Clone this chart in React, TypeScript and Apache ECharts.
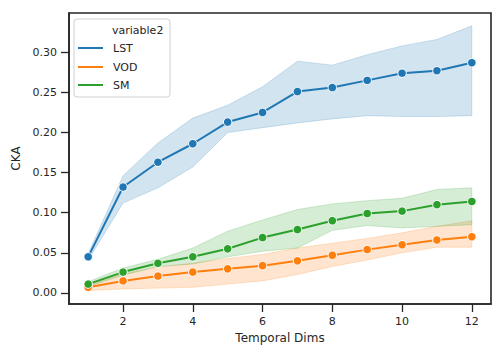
import React, { useEffect, useRef } from "react";
import * as echarts from "echarts";

const dims = [1, 2, 3, 4, 5, 6, 7, 8, 9, 10, 11, 12];
const seriesNames = ["LST", "VOD", "SM"];
const colors = ["#1f77b4", "#ff7f0e", "#2ca02c"];

const lstMean = [0.045, 0.132, 0.163, 0.186, 0.213, 0.225, 0.251, 0.256, 0.265, 0.274, 0.277, 0.287];
const lstUpper = [0.049, 0.146, 0.187, 0.218, 0.234, 0.257, 0.289, 0.284, 0.297, 0.308, 0.316, 0.333];
const lstLower = [0.041, 0.112, 0.131, 0.157, 0.2, 0.206, 0.212, 0.217, 0.221, 0.22, 0.22, 0.221];

const vodMean = [0.007, 0.015, 0.021, 0.026, 0.03, 0.034, 0.04, 0.047, 0.054, 0.06, 0.066, 0.07];
const vodUpper = [0.01, 0.024, 0.032, 0.037, 0.043, 0.048, 0.056, 0.062, 0.068, 0.075, 0.083, 0.09];
const vodLower = [0.003, 0.005, 0.006, 0.007, 0.011, 0.015, 0.023, 0.033, 0.041, 0.05, 0.057, 0.057];

const smMean = [0.011, 0.026, 0.037, 0.045, 0.055, 0.069, 0.079, 0.09, 0.099, 0.102, 0.11, 0.114];
const smUpper = [0.014, 0.031, 0.042, 0.056, 0.077, 0.091, 0.104, 0.111, 0.115, 0.118, 0.129, 0.131];
const smLower = [0.008, 0.022, 0.033, 0.036, 0.045, 0.052, 0.056, 0.078, 0.084, 0.081, 0.083, 0.085];

const xTicks = [2, 4, 6, 8, 10, 12];
const yTicks = [0, 0.05, 0.1, 0.15, 0.2, 0.25, 0.3];

const means = [lstMean, vodMean, smMean];
const uppers = [lstUpper, vodUpper, smUpper];
const lowers = [lstLower, vodLower, smLower];

const FONT = "DejaVu Sans";
const INK = "#262626";

export default function App() {
  const ref = useRef<HTMLDivElement>(null);
  useEffect(() => {
    if (!ref.current) return;
    const chart = echarts.init(ref.current, null, { renderer: "svg" });
    const series: any[] = [];
    seriesNames.forEach((name, k) => {
      const up = uppers[k];
      const lo = lowers[k];
      series.push({
        type: "custom",
        name: name + " band",
        data: dims.map((x, i) => [x, lo[i], up[i]]),
        encode: { x: 0, y: [1, 2] },
        silent: true,
        renderItem: (params: any, api: any) => {
          if (params.dataIndex !== 0) return null;
          const pts: number[][] = [];
          for (let i = 0; i < dims.length; i++) pts.push(api.coord([dims[i], up[i]]));
          for (let i = dims.length - 1; i >= 0; i--) pts.push(api.coord([dims[i], lo[i]]));
          return {
            type: "polygon",
            shape: { points: pts },
            style: {
              fill: colors[k],
              opacity: 0.2,
              stroke: colors[k],
              lineWidth: 1,
            },
          };
        },
      });
      series.push({
        type: "line",
        name,
        data: dims.map((x, i) => [x, means[k][i]]),
        symbol: "circle",
        symbolSize: 8.5,
        showSymbol: true,
        lineStyle: { color: colors[k], width: 2 },
        itemStyle: { color: colors[k], borderColor: "#ffffff", borderWidth: 1 },
        emphasis: { disabled: true },
      });
    });

    const legendItems: any[] = [
      {
        type: "rect",
        shape: { x: 74, y: 19, width: 96, height: 78, r: 3 },
        style: { fill: "rgba(255,255,255,0.8)", stroke: "#d0d0d0", lineWidth: 1 },
      },
      {
        type: "text",
        x: 112,
        y: 30,
        style: { text: "variable2", font: `11px '${FONT}'`, fill: INK, verticalAlign: "middle", align: "left" },
      },
    ];
    const rowY = [48, 67, 85];
    seriesNames.forEach((name, k) => {
      legendItems.push({
        type: "line",
        shape: { x1: 78, y1: rowY[k], x2: 103, y2: rowY[k] },
        style: { stroke: colors[k], lineWidth: 2 },
      });
      legendItems.push({
        type: "text",
        x: 113,
        y: rowY[k],
        style: { text: name, font: `11px '${FONT}'`, fill: INK, verticalAlign: "middle", align: "left" },
      });
    });

    chart.setOption({
      animation: false,
      backgroundColor: "#ffffff",
      textStyle: { fontFamily: FONT },
      grid: {
        left: 69,
        right: 13,
        top: 13,
        bottom: 56,
        show: true,
        borderColor: INK,
        borderWidth: 1.6,
        backgroundColor: "transparent",
        containLabel: false,
      },
      xAxis: {
        type: "value",
        min: 0.45,
        max: 12.55,
        name: "Temporal Dims",
        nameLocation: "middle",
        nameGap: 21,
        nameTextStyle: { fontSize: 12, color: INK, fontFamily: FONT },
        axisLine: { show: true, onZero: false, lineStyle: { color: INK, width: 1.6 } },
        axisTick: { show: true, length: 8, customValues: xTicks, lineStyle: { color: INK, width: 1.3 } },
        axisLabel: {
          customValues: xTicks,
          margin: 12,
          fontSize: 11,
          color: INK,
          fontFamily: FONT,
          formatter: (v: number) => String(v),
        },
        splitLine: { show: false },
      },
      yAxis: {
        type: "value",
        min: -0.0138,
        max: 0.349,
        name: "CKA",
        nameLocation: "middle",
        nameGap: 41,
        nameTextStyle: { fontSize: 12, color: INK, fontFamily: FONT },
        axisLine: { show: true, onZero: false, lineStyle: { color: INK, width: 1.6 } },
        axisTick: { show: true, length: 8, customValues: yTicks, lineStyle: { color: INK, width: 1.3 } },
        axisLabel: {
          customValues: yTicks,
          margin: 12,
          fontSize: 11,
          color: INK,
          fontFamily: FONT,
          formatter: (v: number) => v.toFixed(2),
        },
        splitLine: { show: false },
      },
      series,
      graphic: { elements: legendItems },
    });
    return () => chart.dispose();
  }, []);
  return (
    <div
      ref={ref}
      style={{ position: "absolute", left: 0, top: 0, width: 504, height: 360 }}
    />
  );
}
